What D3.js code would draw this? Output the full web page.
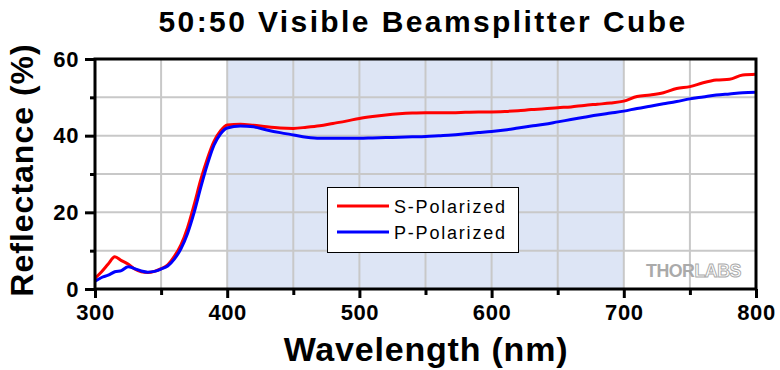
<!DOCTYPE html>
<html><head><meta charset="utf-8">
<script src="https://cdn.jsdelivr.net/npm/d3@7"></script>
<style>
html,body{margin:0;padding:0;background:#fff;}
svg{display:block;font-family:"Liberation Sans",Arial,sans-serif;}
</style></head>
<body><svg id="chart" width="780" height="370"></svg>
<script>
const titleText = "50:50 Visible Beamsplitter Cube";
const xLabel = "Wavelength (nm)";
const yLabel = "Reflectance (%)";
const seriesNames = ["S-Polarized", "P-Polarized"];
const seriesColors = ["#ff0000", "#0000ff"];
const xMajorTicks = [300, 400, 500, 600, 700, 800];
const xMinorTicks = [350, 450, 550, 650, 750];
const yMajorTicks = [0, 20, 40, 60];
const yMinorTicks = [10, 30, 50];
const shadedBand = [400, 700];
const wavelength = [300,305,310,315,320,325,330,335,340,345,350,355,360,365,370,375,380,385,390,395,400,
  410,420,430,440,450,460,470,480,490,500,510,520,530,540,550,560,570,580,590,600,
  610,620,630,640,650,660,670,680,690,700,710,720,730,740,750,760,770,780,790,800];
const sPol = [2.8,4.5,6.5,8.4,7.4,6.5,5.2,4.5,4.3,4.6,5.3,6.3,8.5,11.5,16,22,28.5,34,38.5,41.3,42.8,
  43,42.7,42.3,42,41.9,42.2,42.6,43.2,43.8,44.5,45,45.4,45.7,45.9,46,46,46,46.1,46.2,46.2,
  46.3,46.5,46.8,47,47.3,47.5,47.9,48.2,48.5,49,50.2,50.6,51.2,52.3,52.8,53.8,54.5,54.7,55.8,56];
const pPol = [2,3,3.6,4.5,4.8,5.8,5.3,4.7,4.4,4.6,5.2,6,7.8,10.5,14.5,20,26.5,32.5,37.5,40.5,42,
  42.5,42.3,41.5,40.8,40.2,39.6,39.3,39.3,39.3,39.3,39.4,39.5,39.6,39.7,39.8,40,40.2,40.5,40.8,41.1,
  41.5,42,42.5,43,43.6,44.2,44.8,45.4,45.9,46.4,47.1,47.7,48.3,48.9,49.6,50.1,50.6,50.9,51.2,51.3];

const svg = d3.select("#chart");
const L = 95, R = 756, T = 59, B = 289;
const x = d3.scaleLinear().domain([300, 800]).range([L, R]);
const y = d3.scaleLinear().domain([0, 60]).range([B, T]);

// shaded band
svg.append("rect").attr("x", x(shadedBand[0])).attr("y", T)
  .attr("width", x(shadedBand[1]) - x(shadedBand[0])).attr("height", B - T)
  .attr("fill", "#dde5f5");

// grid
const grid = svg.append("g").attr("stroke", "#c8c8c8").attr("stroke-width", 2);
xMajorTicks.concat(xMinorTicks).filter(v => v > 300 && v < 800).forEach(v => {
  grid.append("line").attr("x1", x(v)).attr("x2", x(v)).attr("y1", T).attr("y2", B);
});
yMajorTicks.concat(yMinorTicks).filter(v => v > 0 && v < 60).forEach(v => {
  grid.append("line").attr("x1", L).attr("x2", R).attr("y1", y(v)).attr("y2", y(v));
});

// curves
const data = [sPol, pPol];
const line = d3.line().x((d, i) => x(wavelength[i])).y(d => y(d)).curve(d3.curveMonotoneX);
data.forEach((s, k) => {
  svg.append("path").datum(s).attr("d", line).attr("fill", "none")
    .attr("stroke", seriesColors[k]).attr("stroke-width", 3).attr("stroke-linejoin", "round");
});

// watermark
const wm = svg.append("text").attr("x", 646).attr("y", 277)
  .attr("font-size", 19).attr("font-weight", "bold").attr("letter-spacing", -0.5)
  .attr("textLength", 95).attr("lengthAdjust", "spacingAndGlyphs");
wm.append("tspan").attr("fill", "#aaaaaa").text("THOR");
wm.append("tspan").attr("fill", "#ffffff").attr("stroke", "#aaaaaa").attr("stroke-width", 1).text("LABS");

// axes
const xMajor = d3.axisBottom(x).tickValues(xMajorTicks).tickSize(9).tickPadding(6).tickFormat(d3.format("d"));
const xMinor = d3.axisBottom(x).tickValues(xMinorTicks).tickSize(6).tickFormat("");
const yMajor = d3.axisLeft(y).tickValues(yMajorTicks).tickSize(10).tickPadding(6).tickFormat(d3.format("d"));
const yMinor = d3.axisLeft(y).tickValues(yMinorTicks).tickSize(5).tickFormat("");

function styleAxis(g) {
  g.select(".domain").remove();
  g.selectAll(".tick line").attr("stroke", "#000").attr("stroke-width", 3);
  g.selectAll(".tick text").attr("fill", "#000").attr("font-size", 22).attr("font-weight", "bold")
    .attr("letter-spacing", 0.6).attr("font-family", "Liberation Sans, Arial, sans-serif");
}
svg.append("g").attr("transform", `translate(0,${B})`).call(xMinor).call(styleAxis);
svg.append("g").attr("transform", `translate(0,${B})`).call(xMajor).call(styleAxis);
svg.append("g").attr("transform", `translate(${L},0)`).call(yMinor).call(styleAxis);
svg.append("g").attr("transform", `translate(${L},0)`).call(yMajor).call(styleAxis);

// frame
svg.append("rect").attr("x", L).attr("y", T).attr("width", R - L).attr("height", B - T)
  .attr("fill", "none").attr("stroke", "#000").attr("stroke-width", 3);

// legend
const lg = svg.append("g");
lg.append("rect").attr("x", 327.5).attr("y", 187.5).attr("width", 191).attr("height", 65)
  .attr("fill", "#fff").attr("stroke", "#000").attr("stroke-width", 1);
seriesNames.forEach((n, k) => {
  const yy = 206 + k * 26;
  lg.append("line").attr("x1", 337).attr("x2", 389).attr("y1", yy).attr("y2", yy)
    .attr("stroke", seriesColors[k]).attr("stroke-width", 3);
  lg.append("text").attr("x", 394).attr("y", yy + 6.5).attr("font-size", 18)
    .attr("letter-spacing", 1.8).attr("fill", "#000").text(n);
});

// titles
svg.append("text").attr("x", 423).attr("y", 32).attr("text-anchor", "middle")
  .attr("font-size", 30).attr("font-weight", "bold").attr("letter-spacing", 2.4).text(titleText);
svg.append("text").attr("x", 426).attr("y", 361).attr("text-anchor", "middle")
  .attr("font-size", 34).attr("font-weight", "bold").attr("letter-spacing", 0.8).text(xLabel);
svg.append("text").attr("transform", "translate(33,170) rotate(-90)").attr("text-anchor", "middle")
  .attr("font-size", 32).attr("font-weight", "bold").attr("letter-spacing", 1).text(yLabel);
</script></body></html>
